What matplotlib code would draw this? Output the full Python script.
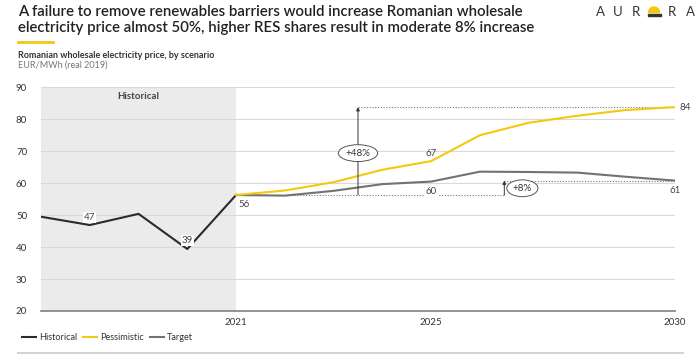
import matplotlib
matplotlib.use('Agg')
import matplotlib.pyplot as plt
from matplotlib.lines import Line2D
from matplotlib.patches import Wedge, Rectangle

plt.rcParams['font.family'] = ['Lato', 'DejaVu Sans']

# data
hist_years = [2017, 2018, 2019, 2020, 2021]
historical = [49.5, 46.9, 50.4, 39.4, 56.3]
fc_years = [2021, 2022, 2023, 2024, 2025, 2026, 2027, 2028, 2029, 2030]
pessimistic = [56.3, 57.7, 60.3, 64.2, 66.9, 75.0, 78.9, 81.1, 82.9, 83.8]
target = [56.3, 56.1, 57.6, 59.7, 60.5, 63.6, 63.5, 63.3, 62.0, 60.8]
xticks = [2021, 2025, 2030]
yticks = [20, 30, 40, 50, 60, 70, 80, 90]

c_hist = '#2b2b2b'
c_pess = '#f4c80f'
c_targ = '#727272'

fig = plt.figure(figsize=(7, 3.58), dpi=100)
ax = fig.add_axes([41 / 700, 1 - 311 / 358, (675 - 41) / 700, (311 - 87.3) / 358])

# historical shading
ax.axvspan(2017, 2021, color='#ebebeb', zorder=0, lw=0)
ax.text(2019, 87, 'Historical', ha='center', va='center', fontsize=7,
        fontweight='bold', color='#444')

ax.plot(hist_years, historical, color=c_hist, lw=1.5, zorder=4)
ax.plot(fc_years, pessimistic, color=c_pess, lw=1.5, zorder=4)
ax.plot(fc_years, target, color=c_targ, lw=1.5, zorder=3)

# dotted reference lines and arrows
dot = dict(colors='#777', linestyles=(0, (1, 1.5)), lw=0.8, zorder=2)
ax.hlines(historical[-1], 2021, 2026.5, **dot)
ax.hlines(pessimistic[-1], 2023.5, 2030, **dot)
ax.hlines(target[-1], 2026.5, 2030, **dot)
arr = dict(arrowstyle='-|>', color='#333', lw=0.7, mutation_scale=5, shrinkA=0, shrinkB=0)
ax.annotate('', xy=(2023.5, pessimistic[-1]), xytext=(2023.5, historical[-1]),
            arrowprops=arr, zorder=5)
ax.annotate('', xy=(2026.5, target[-1]), xytext=(2026.5, historical[-1]),
            arrowprops=arr, zorder=5)
ell = dict(boxstyle='ellipse,pad=0.15', fc='white', ec='#555', lw=0.7)
ax.text(2023.5, 69.4, '+48%', ha='center', va='center', fontsize=7,
        color='#333', bbox=ell, zorder=6)
ax.text(2026.87, 58.4, '+8%', ha='center', va='center', fontsize=7,
        color='#333', bbox=ell, zorder=6)

# value labels
wb = dict(boxstyle='square,pad=0.1', fc='white', ec='none')
lab = dict(fontsize=7, color='#444', zorder=6)
ax.text(2018, 49.4, '47', ha='center', va='center', bbox=wb, **lab)
ax.text(2020, 42.0, '39', ha='center', va='center', bbox=wb, **lab)
ax.text(2021.05, 53.2, '56', ha='left', va='center', bbox=wb, **lab)
ax.text(2025, 69.4, '67', ha='center', va='center', **lab)
ax.text(2025, 57.3, '60', ha='center', va='center', bbox=wb, **lab)
ax.text(2030.1, 83.6, '84', ha='left', va='center', clip_on=False, **lab)
ax.text(2030, 57.6, '61', ha='center', va='center', clip_on=False, **lab)

ax.set_xlim(2017, 2030)
ax.set_ylim(20, 90)
ax.set_xticks(xticks)
ax.set_yticks(yticks)
ax.yaxis.grid(True, color='#d9d9d9', lw=0.8)
ax.set_axisbelow(True)
for s in ['top', 'right', 'left']:
    ax.spines[s].set_visible(False)
ax.spines['bottom'].set_color('#8a8a8a')
ax.spines['bottom'].set_linewidth(1.3)
ax.tick_params(axis='both', length=0, labelsize=7, labelcolor='#333')
ax.tick_params(axis='y', pad=10)
ax.tick_params(axis='x', pad=5)

# legend
handles = [Line2D([], [], color=c_hist, lw=1.5),
           Line2D([], [], color=c_pess, lw=1.5),
           Line2D([], [], color=c_targ, lw=1.5)]
fig.legend(handles, ['Historical', 'Pessimistic', 'Target'], loc='center left',
           bbox_to_anchor=(14 / 700, 1 - 338 / 358), ncol=3, frameon=False,
           fontsize=6.6, handlelength=1.5, handletextpad=0.3, columnspacing=0.7,
           labelcolor='#333')
fig.add_artist(Line2D([18 / 700, 683 / 700], [1 - 353 / 358] * 2,
                      color='#d4d4d4', lw=1.5))

# header
fig.text(18 / 700, 1 - 11.5 / 358,
         'A failure to remove renewables barriers would increase Romanian wholesale',
         fontsize=10.8, fontweight='semibold', color='#222', va='center')
fig.text(18 / 700, 1 - 28 / 358,
         'electricity price almost 50%, higher RES shares result in moderate 8% increase',
         fontsize=10.8, fontweight='semibold', color='#222', va='center')
fig.add_artist(Line2D([18 / 700, 53 / 700], [1 - 42 / 358] * 2, color=c_pess, lw=2))
fig.text(18 / 700, 1 - 55 / 358, 'Romanian wholesale electricity price, by scenario',
         fontsize=6.45, fontweight='bold', color='#333', va='center')
fig.text(18 / 700, 1 - 65 / 358, 'EUR/MWh (real 2019)', fontsize=6.45,
         color='#777', va='center')

# logo
for x, ch in zip([600, 618, 636, 672, 690], 'AURRA'):
    fig.text(x / 700, 1 - 12 / 358, ch, fontsize=9.5, color='#333',
             ha='center', va='center')
t = fig.dpi_scale_trans
fig.add_artist(Wedge((6.54, 3.58 - 0.125), 0.055, 0, 180, color=c_pess, transform=t))
fig.add_artist(Rectangle((6.475, 3.58 - 0.155), 0.13, 0.015, color='#333', transform=t))

fig.savefig('out.png', dpi=100)
